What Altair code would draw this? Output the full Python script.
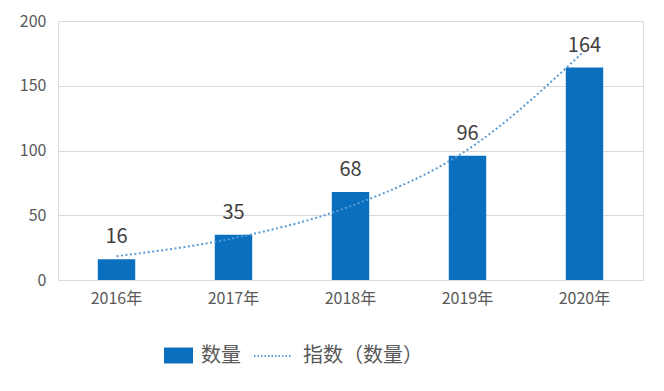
import altair as alt
import pandas as pd

years = ["2016年", "2017年", "2018年", "2019年", "2020年"]
counts = [16, 35, 68, 96, 164]
trend = [18.4, 32.3, 57.0, 100.6, 177.0]  # exponential trendline read at each year

bar_name = "数量"
line_name = "指数（数量）"

df = pd.DataFrame({"year": years, "count": counts, "trend": trend,
                   "s1": [bar_name] * 5, "s2": [line_name] * 5})

FONT = "Noto Sans CJK SC"
BLUE = "#0B6FC0"
LBLUE = "#5B9BD5"

x = alt.X("year:N", sort=years, title=None,
          scale=alt.Scale(paddingInner=0.68, paddingOuter=0.34),
          axis=alt.Axis(labelAngle=0, ticks=False, domain=False, labelPadding=10,
                        labelFontSize=16, labelColor="#595959", labelFont=FONT))
y = alt.Y("count:Q", title=None,
          scale=alt.Scale(domain=[0, 200], nice=False),
          axis=alt.Axis(values=[0, 50, 100, 150, 200], ticks=False, domain=False,
                        labelPadding=12, labelFontSize=16, labelColor="#595959",
                        labelFont=FONT, gridColor="#D9D9D9", gridWidth=1))

base = alt.Chart(df)

bars = base.mark_bar().encode(
    x=x, y=y,
    fill=alt.Fill("s1:N", scale=alt.Scale(domain=[bar_name], range=[BLUE]),
                  legend=alt.Legend(title=None, orient="none", legendX=106, legendY=320,
                                    symbolType="M-1,-0.55H1V0.55H-1Z", symbolSize=841,
                                    symbolStrokeWidth=0, labelFontSize=20, labelFont=FONT,
                                    labelColor="#595959", labelOffset=8, padding=0))
)

labels = base.mark_text(dy=-16, baseline="alphabetic", fontSize=20, font=FONT,
                        color="#404040").encode(x=x, y=y, text="count:Q")

line = base.mark_line(strokeWidth=2, strokeDash=[2, 2.5], interpolate="monotone").encode(
    x=x,
    y=alt.Y("trend:Q"),
    stroke=alt.Stroke("s2:N", scale=alt.Scale(domain=[line_name], range=[LBLUE]),
                      legend=alt.Legend(title=None, orient="none", legendX=195, legendY=315,
                                        symbolType="stroke", symbolSize=1444,
                                        symbolStrokeWidth=2, symbolDash=[1.5, 2],
                                        labelFontSize=20, labelFont=FONT,
                                        labelColor="#595959", labelOffset=10, padding=0))
)

chart = alt.layer(bars, line, labels).resolve_legend(fill="independent", stroke="independent").properties(
    width=585, height=259,
    autosize=alt.AutoSizeParams(type="none"),
    padding={"left": 50, "top": 13, "right": 13, "bottom": 103},
).configure_view(stroke=None).configure(background="white")

chart.save("out.html", embed_options={"renderer": "svg", "actions": False})
